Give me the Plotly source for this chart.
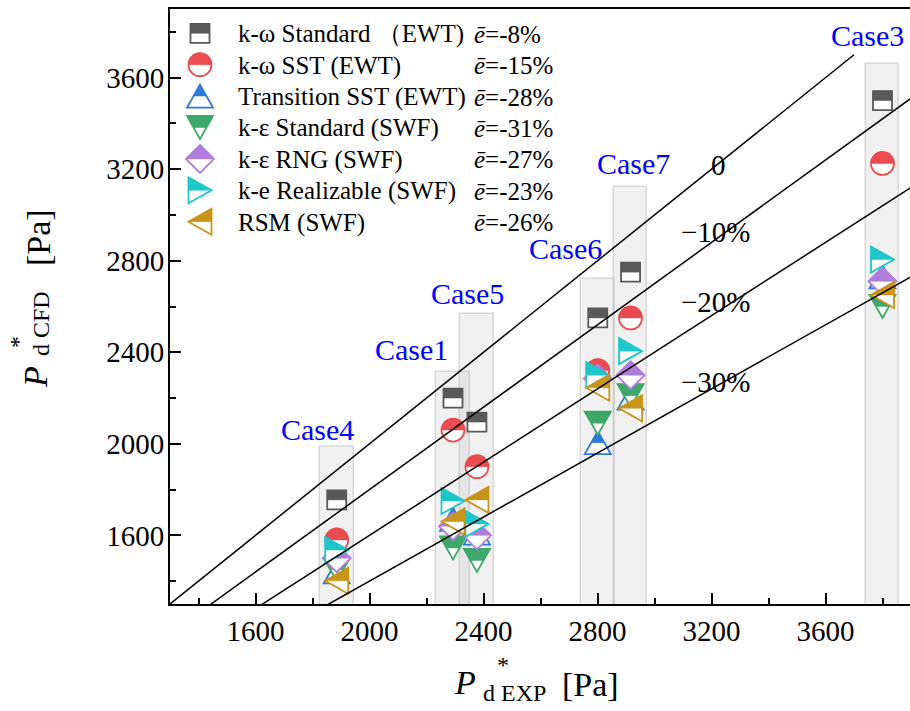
import plotly.graph_objects as go

# ---------------- data ----------------
cases = ["Case4", "Case1", "Case5", "Case6", "Case7", "Case3"]
p_exp = [1885, 2293, 2377, 2801, 2916, 3800]
case_band_top = [1986, 2315, 2567, 2720, 3122, 3658]

model_names = ["k-ω Standard （EWT)", "k-ω SST (EWT)", "Transition SST (EWT)",
               "k-ε Standard (SWF)", "k-ε RNG (SWF)", "k-e Realizable (SWF)", "RSM (SWF)"]
mean_error = ["-8%", "-15%", "-28%", "-31%", "-27%", "-23%", "-26%"]

kw_standard = [1755, 2200, 2095, 2550, 2750, 3500]
kw_sst = [1580, 2060, 1900, 2320, 2550, 3225]
transition_sst = [1440, 1670, 1610, 2005, 2200, 2730]
ke_standard = [1450, 1545, 1490, 2090, 2210, 2600]
ke_rng = [1500, 1640, 1600, 2285, 2300, 2710]
ke_realizable = [1536, 1750, 1650, 2300, 2405, 2805]
rsm = [1402, 1660, 1755, 2245, 2155, 2650]
series_values = [kw_standard, kw_sst, transition_sst, ke_standard, ke_rng, ke_realizable, rsm]

error_levels = [0.0, -0.10, -0.20, -0.30]
error_labels = ["0", "−10%", "−20%", "−30%"]
line_x_start = 1000
line_y_end = 3700

x_ticks = [1600, 2000, 2400, 2800, 3200, 3600]
y_ticks = [1600, 2000, 2400, 2800, 3200, 3600]

# ---------------- styles ----------------
colors = ["#595959", "#E94B4F", "#2F78DC", "#3EA86A", "#B07DDC", "#1FC6C9", "#C89519"]
symbols = ["square", "circle", "triangle-up", "triangle-down", "diamond",
           "triangle-right", "triangle-left"]
SERIF = "Liberation Serif"

# plot area in pixels
L, R, T, B = 170, 910, 9, 604
FIG_W, FIG_H = 910, 711
X_RANGE = [1300, 1300 + (R - L) / 0.285]
Y_RANGE = [1300, 3900]


def pxp(px, py):
    return (px - L) / (R - L), (B - py) / (B - T)


def poly(pts):
    return "M" + " L".join(f"{x:.2f},{y:.2f}" for x, y in pts) + " Z"


def glyph_paths(sym):
    if sym == "square":
        a = 9.5
        return (poly([(-a, -a), (a, -a), (a, a), (-a, a)]),
                poly([(-a, 0), (a, 0), (a, a), (-a, a)]))
    if sym == "circle":
        r = 11.5
        k = 0.5523 * r
        full = (f"M{r},0 C{r},{k} {k},{r} 0,{r} C{-k},{r} {-r},{k} {-r},0 "
                f"C{-r},{-k} {-k},{-r} 0,{-r} C{k},{-r} {r},{-k} {r},0 Z")
        top = f"M{r},0 C{r},{k} {k},{r} 0,{r} C{-k},{r} {-r},{k} {-r},0 Z"
        return full, top
    if sym == "triangle-up":
        w, h = 13, 11.5
        return (poly([(0, h), (w, -h), (-w, -h)]),
                poly([(0, h), (w / 2, 0), (-w / 2, 0)]))
    if sym == "triangle-down":
        w, h = 13, 11.5
        return (poly([(-w, h), (w, h), (0, -h)]),
                poly([(-w, h), (w, h), (w / 2, 0), (-w / 2, 0)]))
    if sym == "diamond":
        d = 14
        return (poly([(0, d), (d, 0), (0, -d), (-d, 0)]),
                poly([(0, d), (d, 0), (-d, 0)]))
    if sym == "triangle-right":
        w, h = 11.5, 13
        return (poly([(-w, h), (w, 0), (-w, -h)]),
                poly([(-w, h), (w, 0), (-w, 0)]))
    if sym == "triangle-left":
        w, h = 11.5, 13
        return (poly([(w, h), (-w, 0), (w, -h)]),
                poly([(w, h), (-w, 0), (w, 0)]))


def glyph_shapes(sym, color, x, y, ref="data"):
    full, top = glyph_paths(sym)
    xr, yr = ("x", "y") if ref == "data" else ("paper", "paper")
    base = dict(type="path", xref=xr, yref=yr, xsizemode="pixel", ysizemode="pixel",
                xanchor=x, yanchor=y, layer="above")
    return [dict(base, path=full, fillcolor="white", line=dict(color=color, width=1.8)),
            dict(base, path=top, fillcolor=color, line=dict(color=color, width=0.5))]


fig = go.Figure()

# case bands
fig.add_trace(go.Bar(
    x=p_exp, y=case_band_top, width=118,
    marker=dict(color="rgba(190,190,190,0.22)",
                line=dict(color="rgba(185,185,185,0.5)", width=1.5)),
    showlegend=False, hoverinfo="skip"))

# data series (glyphs are completed with half-filled shapes below)
shapes = []
for name, vals, col, sym in zip(model_names, series_values, colors, symbols):
    fig.add_trace(go.Scatter(
        x=p_exp, y=vals, mode="markers", name=name,
        marker=dict(symbol=sym, size=8, color=col, line=dict(width=0)),
        showlegend=False))
    for xv, yv in zip(p_exp, vals):
        shapes += glyph_shapes(sym, col, xv, yv)

# error reference lines (drawn above markers)
for e in error_levels:
    x0 = line_x_start
    x1 = line_y_end / (1 + e)
    shapes.append(dict(type="line", xref="x", yref="y", x0=x0, y0=(1 + e) * x0,
                       x1=x1, y1=(1 + e) * x1, layer="above",
                       line=dict(color="black", width=1.5)))

annotations = []

# legend (manual, to reproduce half-filled symbols)
leg_y0, leg_dy = 33.3, 31.4
for i, (name, err, col, sym) in enumerate(zip(model_names, mean_error, colors, symbols)):
    py = leg_y0 + i * leg_dy
    sx, sy = pxp(200, py)
    shapes += glyph_shapes(sym, col, sx, sy, ref="paper")
    tx, ty = pxp(236, py + 1)
    annotations.append(dict(xref="paper", yref="paper", x=tx, y=ty, text=name,
                            xanchor="left", yanchor="middle", showarrow=False,
                            font=dict(family=SERIF, size=25, color="black")))
    ex, ey = pxp(472, py + 1)
    annotations.append(dict(xref="paper", yref="paper", x=ex, y=ey,
                            text=f"<i>ē</i>={err}",
                            xanchor="left", yanchor="middle", showarrow=False,
                            font=dict(family=SERIF, size=25, color="black")))

# case labels
case_label_pos = {"Case4": (317, 430), "Case1": (411, 349), "Case5": (467, 293),
                  "Case6": (565, 248), "Case7": (633, 164), "Case3": (867, 36)}
for c in cases:
    px, py = case_label_pos[c]
    ax, ay = pxp(px, py)
    annotations.append(dict(xref="paper", yref="paper", x=ax, y=ay, text=c,
                            showarrow=False, xanchor="center", yanchor="middle",
                            font=dict(family=SERIF, size=30, color="#0000FF")))

# error line labels
err_label_pos = [(718, 165), (716, 232), (716, 302), (716, 382)]
for lab, (px, py) in zip(error_labels, err_label_pos):
    ax, ay = pxp(px, py)
    annotations.append(dict(xref="paper", yref="paper", x=ax, y=ay, text=lab,
                            showarrow=False, xanchor="center", yanchor="middle",
                            font=dict(family=SERIF, size=29, color="black")))


# axis titles built from pieces (stacked super/subscript)
def title_piece(text, px, py, size, angle=0, italic=False, anchor="center"):
    ax, ay = pxp(px, py)
    t = f"<i>{text}</i>" if italic else text
    return dict(xref="paper", yref="paper", x=ax, y=ay, text=t, showarrow=False,
                xanchor=anchor, yanchor="middle", textangle=angle,
                font=dict(family=SERIF, size=size, color="black"))


annotations += [
    title_piece("P", 465, 682, 34, italic=True),
    title_piece("*", 503, 665, 24),
    title_piece("d EXP", 481, 693, 24, anchor="left"),
    title_piece("[Pa]", 560, 684, 34, anchor="left"),
    title_piece("P", 35, 377, 34, angle=-90, italic=True),
    title_piece("*", 18, 342, 24, angle=-90),
    title_piece("d CFD", 41, 324, 24, angle=-90),
    title_piece("[Pa]", 39, 238, 34, angle=-90),
]

axis_common = dict(
    ticks="inside", ticklen=11, tickwidth=2, tickcolor="black",
    showline=True, linewidth=2, linecolor="black", showgrid=False, zeroline=False,
    tickfont=dict(family=SERIF, size=29, color="black"),
    minor=dict(ticks="inside", ticklen=6, tickwidth=2, tickcolor="black",
               dtick=200, tick0=0, showgrid=False),
)

fig.update_layout(
    width=FIG_W, height=FIG_H,
    margin=dict(l=L, r=FIG_W - R, t=T, b=FIG_H - B),
    paper_bgcolor="white", plot_bgcolor="white",
    font=dict(family=SERIF),
    xaxis=dict(axis_common, range=X_RANGE, tickvals=x_ticks, mirror=True),
    yaxis=dict(axis_common, range=Y_RANGE, tickvals=y_ticks, mirror=False,
               ticklabelstandoff=-2),
    shapes=shapes, annotations=annotations, showlegend=False, bargap=0,
)

fig.write_html("out.html")
